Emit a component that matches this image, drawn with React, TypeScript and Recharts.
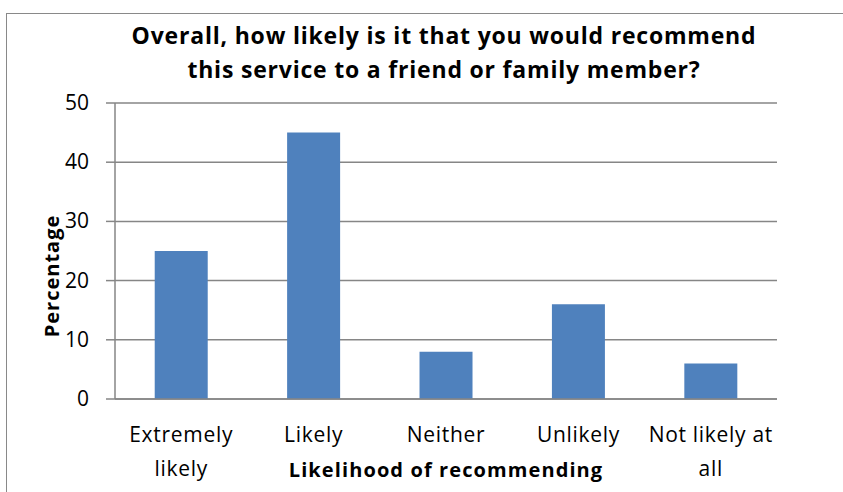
import React from 'react';
import { BarChart, Bar, XAxis, YAxis, CartesianGrid, Label } from 'recharts';

// Chart values
const categories = ['Extremely likely', 'Likely', 'Neither', 'Unlikely', 'Not likely at all'];
const percentages = [25, 45, 8, 16, 6];
const yTicks = [0, 10, 20, 30, 40, 50];

const titleLines = [
    'Overall, how likely is it that you would recommend',
    'this service to a friend or family member?'
];

const FONT = '"Open Sans", sans-serif';
const GRID = '#868686';
const BAR_COLOR = '#4F81BD';

const data = categories.map((name, i) => ({ name, value: percentages[i] }));

// break a label into lines of at most maxChars characters
const wrap = (text: string, maxChars = 13) => {
    const lines: string[] = [];
    let cur = '';
    text.split(' ').forEach((w) => {
        const next = cur ? `${cur} ${w}` : w;
        if (next.length > maxChars && cur) {
            lines.push(cur);
            cur = w;
        } else {
            cur = next;
        }
    });
    if (cur) lines.push(cur);
    return lines;
};

// y here already sits tickSize + tickMargin below the axis line
const XTick = ({ x, y, payload }: any) => (
    <text x={x} y={y} textAnchor="middle" fontFamily={FONT} fontSize={21} letterSpacing={0.7} fill="#000">
        {wrap(payload.value).map((line, i) => (
            <tspan key={i} x={x} dy={i === 0 ? 35 : 34}>{line}</tspan>
        ))}
    </text>
);

const YTick = ({ x, y, payload }: any) => (
    <text x={x} y={y} dy={7} textAnchor="end" fontFamily={FONT} fontSize={21} fill="#000">
        {payload.value}
    </text>
);

export default function App() {
    return (
        <div style={{ position: 'absolute', left: 0, top: 0, width: 843, height: 492, overflow: 'hidden', background: '#fff' }}>
            <div style={{ position: 'absolute', left: 6, top: 13, width: 900, height: 600, border: '1px solid #898989' }} />
            <svg width={843} height={100} style={{ position: 'absolute', left: 0, top: 0 }}>
                {titleLines.map((l, i) => (
                    <text key={i} x={444} y={44 + i * 34} textAnchor="middle" fontFamily={FONT} fontWeight="bold" fontSize={23} letterSpacing={0.8} fill="#000">
                        {l}
                    </text>
                ))}
            </svg>
            <BarChart
                width={843}
                height={492}
                data={data}
                margin={{ top: 103, right: 66, bottom: 0, left: 0 }}
                barCategoryGap="30%"
                style={{ position: 'absolute', left: 0, top: 0 }}
            >
                <CartesianGrid vertical={false} stroke={GRID} strokeWidth={1.5} />
                <XAxis
                    dataKey="name"
                    height={93}
                    interval={0}
                    tickLine={false}
                    axisLine={{ stroke: GRID, strokeWidth: 1.5 }}
                    tick={<XTick />}
                >
                    <Label
                        content={() => (
                            <text x={446} y={477} textAnchor="middle" fontFamily={FONT} fontWeight="bold" fontSize={20} letterSpacing={1.1} fill="#000">
                                Likelihood of recommending
                            </text>
                        )}
                    />
                </XAxis>
                <YAxis
                    width={115}
                    domain={[0, 50]}
                    ticks={yTicks}
                    interval={0}
                    tickSize={9}
                    tickMargin={17}
                    tickLine={{ stroke: GRID, strokeWidth: 1.5 }}
                    axisLine={{ stroke: GRID, strokeWidth: 1.5 }}
                    tick={<YTick />}
                >
                    <Label
                        content={() => (
                            <text
                                x={0}
                                y={0}
                                transform="translate(59, 276) rotate(-90)"
                                textAnchor="middle"
                                fontFamily={FONT}
                                fontWeight="bold"
                                fontSize={20}
                                letterSpacing={1}
                                fill="#000"
                            >
                                Percentage
                            </text>
                        )}
                    />
                </YAxis>
                <Bar dataKey="value" fill={BAR_COLOR} isAnimationActive={false} />
            </BarChart>
        </div>
    );
}
